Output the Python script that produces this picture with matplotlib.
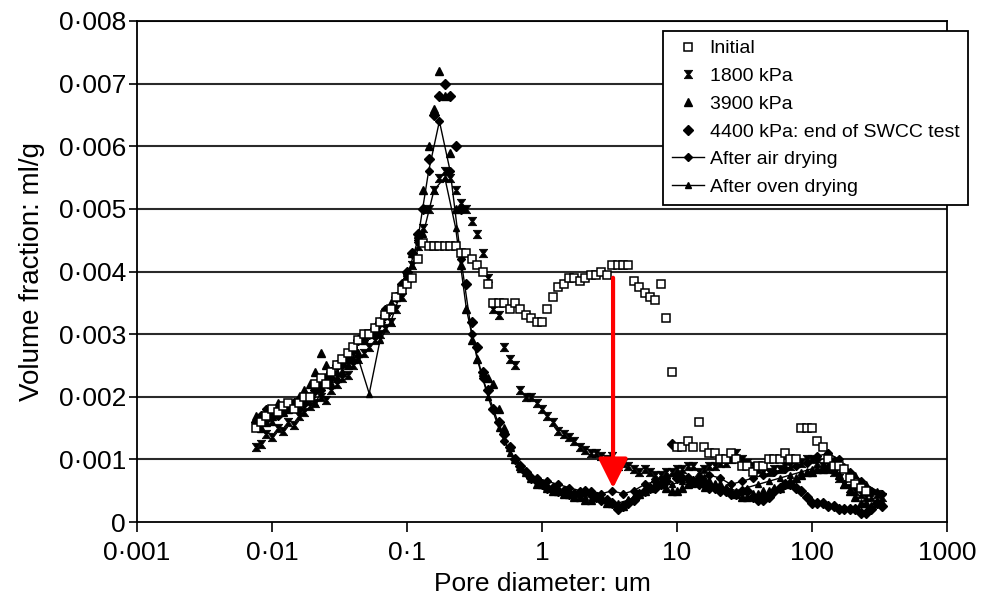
import numpy as np
import matplotlib
matplotlib.use('Agg')
import matplotlib.pyplot as plt
from matplotlib.path import Path
from matplotlib.ticker import FixedLocator, FixedFormatter, NullLocator

plt.rcParams['font.family'] = ['Liberation Sans', 'DejaVu Sans']

# ---------------- data (pore diameter in um, volume fraction in 1e-3 ml/g) ----------------
diam_a = [0.0076, 0.0091, 0.011, 0.0132, 0.0158, 0.0191, 0.0229, 0.0275, 0.0331, 0.0398,
          0.0479, 0.0575, 0.0692, 0.0832, 0.1, 0.120, 0.1445, 0.1738, 0.209, 0.251,
          0.302, 0.363, 0.437, 0.525, 0.631, 0.759, 0.912, 1.096, 1.318, 1.585,
          1.905, 2.291, 2.754, 3.311, 3.981, 4.786, 5.754, 6.918, 8.318, 10.0,
          12.02, 14.45, 17.38, 20.89, 25.12, 30.2, 36.31, 43.65, 52.48, 63.1,
          75.86, 91.2, 109.6, 131.8, 158.5, 190.5, 229.1, 275.4, 331.1]
diam_b = [0.0083, 0.01, 0.012, 0.01445, 0.0174, 0.0209, 0.0251, 0.0302, 0.0363, 0.0437,
          0.0525, 0.0631, 0.0759, 0.0912, 0.1096, 0.1318, 0.1585, 0.1905, 0.2291, 0.2754,
          0.3311, 0.3981, 0.4786, 0.5754, 0.6918, 0.8318, 1.0, 1.202, 1.445, 1.738,
          2.089, 2.512, 3.02, 3.631, 4.365, 5.248, 6.31, 7.586, 9.12, 10.96,
          13.18, 15.85, 19.05, 22.91, 27.54, 33.11, 39.81, 47.86, 57.54, 69.18,
          83.18, 100, 120.2, 144.5, 173.8, 208.9, 251.2, 302]
diam_fine = sorted(diam_a + diam_b)
diam_init = [d for d in diam_fine if d <= 252]

vol_initial = [1.5, 1.6, 1.7, 1.8, 1.75, 1.85, 1.9, 1.8, 1.9, 2.0,
               2.0, 2.2, 2.3, 2.2, 2.4, 2.5, 2.6, 2.7, 2.8, 2.9,
               3.0, 3.0, 3.1, 3.2, 3.3, 3.4, 3.6, 3.7, 3.8, 3.9,
               4.2, 4.45, 4.4, 4.4, 4.4, 4.4, 4.4, 4.4, 4.3, 4.3,
               4.2, 4.1, 4.0, 3.8, 3.5, 3.5, 3.5, 3.4, 3.5, 3.4,
               3.3, 3.25, 3.2, 3.2, 3.4, 3.6, 3.75, 3.8, 3.9, 3.9,
               3.85, 3.9, 3.95, 3.95, 4.0, 3.95, 4.1, 4.1, 4.1, 4.1,
               3.85, 3.75, 3.65, 3.6, 3.55, 3.8, 3.25, 2.4, 1.2, 1.2,
               1.3, 1.2, 1.6, 1.2, 1.1, 1.1, 1.0, 1.0, 1.1, 1.0,
               0.9, 0.9, 0.8, 0.9, 0.9, 1.0, 1.0, 1.0, 1.1, 1.0,
               1.0, 1.5, 1.5, 1.5, 1.3, 1.2, 1.0, 0.9, 0.9, 0.85,
               0.7, 0.6, 0.55, 0.5]
vol_1800 = [1.2, 1.25, 1.4, 1.35, 1.5, 1.45, 1.6, 1.55, 1.7, 1.75,
            1.85, 1.9, 2.0, 1.95, 2.1, 2.2, 2.3, 2.35, 2.5, 2.6,
            2.7, 2.8, 2.9, 3.0, 3.1, 3.2, 3.4, 3.6, 3.9, 4.1,
            4.4, 4.7, 5.0, 5.3, 5.5, 5.6, 5.5, 5.3, 5.1, 5.0,
            4.8, 4.6, 4.3, 3.9, 3.4, 3.3, 2.8, 2.6, 2.5, 2.1,
            2.0, 2.0, 1.9, 1.8, 1.7, 1.6, 1.45, 1.4, 1.35, 1.3,
            1.2, 1.15, 1.1, 1.1, 1.05, 1.0, 1.05, 0.9, 0.95, 0.9,
            0.85, 0.8, 0.85, 0.8, 0.75, 0.75, 0.8, 0.8, 0.85, 0.85,
            0.9, 0.9, 0.8, 0.85, 0.9, 0.9, 0.95, 0.95, 1.0, 1.1,
            1.0, 0.95, 0.9, 0.85, 0.8, 0.8, 0.85, 0.85, 0.9, 0.9,
            0.95, 0.95, 1.0, 1.0, 0.95, 0.9, 0.85, 0.8, 0.7, 0.6,
            0.55, 0.5, 0.45, 0.4, 0.4, 0.45, 0.4]
vol_3900 = [1.7, 1.5, 1.6, 1.7, 1.9, 1.75, 1.8, 1.9, 2.0, 2.1,
            2.2, 2.4, 2.7, 2.5, 2.2, 2.3, 2.4, 2.5, 2.6, 2.7,
            2.9, 3.0, 3.1, 3.2, 3.3, 3.5, 3.6, 3.8, 4.0, 4.3,
            4.6, 5.3, 6.0, 6.6, 7.2, 6.8, 5.9, 5.0, 4.1, 3.4,
            2.9, 2.6, 2.4, 2.3, 2.2, 1.8, 1.5, 1.2, 1.0, 0.9,
            0.8, 0.7, 0.6, 0.6, 0.55, 0.5, 0.5, 0.45, 0.45, 0.4,
            0.4, 0.35, 0.35, 0.4, 0.4, 0.3, 0.3, 0.25, 0.25, 0.35,
            0.4, 0.45, 0.5, 0.55, 0.6, 0.6, 0.55, 0.5, 0.5, 0.55,
            0.6, 0.65, 0.7, 0.7, 0.65, 0.6, 0.6, 0.55, 0.5, 0.45,
            0.4, 0.4, 0.45, 0.45, 0.5, 0.5, 0.55, 0.55, 0.6, 0.65,
            0.7, 0.75, 0.8, 0.8, 0.85, 0.85, 0.9, 0.85, 0.75, 0.6,
            0.5, 0.4, 0.3, 0.3, 0.25, 0.3, 0.3]
vol_4400 = [1.6, 1.7, 1.65, 1.7, 1.8, 1.8, 1.85, 1.9, 1.95, 1.9,
            2.0, 2.1, 2.2, 2.3, 2.4, 2.5, 2.55, 2.6, 2.75, 2.9,
            2.95, 3.0, 3.1, 3.2, 3.3, 3.4, 3.6, 3.8, 4.0, 4.3,
            4.6, 5.0, 5.8, 6.5, 6.8, 7.0, 6.8, 6.0, 5.0, 3.8,
            3.2, 2.8, 2.4, 2.1, 1.8, 1.6, 1.4, 1.2, 1.0, 0.9,
            0.8, 0.7, 0.65, 0.6, 0.55, 0.55, 0.5, 0.5, 0.45, 0.45,
            0.45, 0.5, 0.45, 0.4, 0.35, 0.35, 0.3, 0.2, 0.25, 0.3,
            0.35, 0.45, 0.5, 0.55, 0.55, 0.6, 0.65, 1.25, 0.7, 0.7,
            0.7, 0.65, 0.6, 0.6, 0.55, 0.55, 0.5, 0.5, 0.45, 0.45,
            0.5, 0.5, 0.4, 0.35, 0.35, 0.4, 0.5, 0.55, 0.6, 0.6,
            0.55, 0.5, 0.4, 0.3, 0.3, 0.3, 0.25, 0.25, 0.2, 0.2,
            0.2, 0.2, 0.15, 0.15, 0.2, 0.3, 0.25]
vol_air = [1.6, 1.8, 1.7, 1.9, 1.8, 2.0, 2.1, 2.3, 2.5, 2.8,
           2.9, 3.0, 3.4, 3.6, 3.9, 4.5, 5.6, 6.4, 5.6, 4.2,
           3.0, 2.3, 1.8, 1.3, 1.0, 0.8, 0.7, 0.65, 0.6, 0.55,
           0.5, 0.5, 0.45, 0.5, 0.45, 0.5, 0.6, 0.65, 0.7, 0.75,
           0.7, 0.7, 0.75, 0.7, 0.6, 0.65, 0.7, 0.75, 0.8, 0.85,
           0.9, 0.95, 1.05, 1.1, 1.0, 0.8, 0.65, 0.5, 0.45]
vol_oven = [1.7, 1.6, 1.8, 1.85, 2.0, 1.9, 2.2, 2.4, 2.6, 2.6,
            2.05, 2.9, 3.2, 3.7, 4.1, 4.6, 5.3, 5.5, 4.7, 3.4,
            2.6, 2.0, 1.5, 1.1, 0.85, 0.7, 0.6, 0.55, 0.5, 0.45,
            0.4, 0.4, 0.35, 0.3, 0.35, 0.45, 0.55, 0.6, 0.6, 0.65,
            0.6, 0.55, 0.6, 0.55, 0.5, 0.55, 0.6, 0.65, 0.7, 0.75,
            0.8, 0.85, 0.9, 1.0, 0.9, 0.75, 0.6, 0.5]

labels = ['Initial', '1800 kPa', '3900 kPa', '4400 kPa: end of SWCC test',
          'After air drying', 'After oven drying']

x_ticks = [0.001, 0.01, 0.1, 1, 10, 100, 1000]
x_tick_labels = ['0·001', '0·01', '0·1', '1', '10', '100', '1000']
y_ticks = [0, 0.001, 0.002, 0.003, 0.004, 0.005, 0.006, 0.007, 0.008]
y_tick_labels = ['0', '0·001', '0·002', '0·003', '0·004', '0·005', '0·006', '0·007', '0·008']

arrow_x = 3.36
arrow_from = 0.0039
arrow_to = 0.00054

scale = 1e-3
# ------------------------------------------------------------------------------------------

fig = plt.figure(figsize=(9.85, 5.99), dpi=100)
ax = fig.add_axes([137/985, 1-522/599, (947-137)/985, (522-21)/599])
ax.set_xscale('log')
ax.set_xlim(0.001, 1000)
ax.set_ylim(0, 0.008)

hourglass = Path([(-1, 1), (1, 1), (0.25, 0), (1, -1), (-1, -1), (-0.25, 0), (-1, 1)],
                 [Path.MOVETO, Path.LINETO, Path.LINETO, Path.LINETO, Path.LINETO,
                  Path.LINETO, Path.CLOSEPOLY])

k = 'black'
h_air, = ax.plot(diam_a, np.array(vol_air) * scale, '-', color=k, lw=1.0,
                 marker='D', ms=4.2, mfc=k, mec=k, zorder=3)
h_oven, = ax.plot(diam_b, np.array(vol_oven) * scale, '-', color=k, lw=1.0,
                  marker='^', ms=5.0, mfc=k, mec=k, zorder=3)
h_1800, = ax.plot(diam_fine, np.array(vol_1800) * scale, ls='none', marker=hourglass,
                  ms=6.0, mfc=k, mec=k, mew=0.6, zorder=4)
h_3900, = ax.plot(diam_fine, np.array(vol_3900) * scale, ls='none', marker='^',
                  ms=5.8, mfc=k, mec=k, zorder=4)
h_4400, = ax.plot(diam_fine, np.array(vol_4400) * scale, ls='none', marker='D',
                  ms=4.8, mfc=k, mec=k, zorder=4)
h_init, = ax.plot(diam_init, np.array(vol_initial) * scale, ls='none', marker='s',
                  ms=6.0, mfc='white', mec=k, mew=1.1, zorder=5)

# grid and frame
for yv in y_ticks[1:]:
    ax.axhline(yv, color='#2a2a2a', lw=1.5, zorder=1)
for s in ax.spines.values():
    s.set_color('black')
    s.set_linewidth(1.3)

ax.xaxis.set_major_locator(FixedLocator(x_ticks))
ax.xaxis.set_major_formatter(FixedFormatter(x_tick_labels))
ax.xaxis.set_minor_locator(NullLocator())
ax.yaxis.set_major_locator(FixedLocator(y_ticks))
ax.yaxis.set_major_formatter(FixedFormatter(y_tick_labels))
ax.tick_params(axis='both', direction='out', length=6, width=1.2, color='black',
               labelsize=19, pad=2)
ax.tick_params(axis='x', length=7, pad=7)

ax.set_xlabel('Pore diameter: um', fontsize=19, labelpad=5)
ax.set_ylabel('Volume fraction: ml/g', fontsize=20, labelpad=10)

# red arrow
ax.annotate('', xy=(arrow_x, arrow_to), xytext=(arrow_x, arrow_from),
            arrowprops=dict(arrowstyle='-|>,head_length=1.0,head_width=0.5',
                            mutation_scale=18, color='#ff0000', lw=3,
                            shrinkA=0, shrinkB=0), zorder=10)

leg = fig.legend([h_init, h_1800, h_3900, h_4400, h_air, h_oven], labels,
                 loc='upper left', bbox_to_anchor=(663/985, 1-31/599),
                 borderaxespad=0, fontsize=14, frameon=True, fancybox=False,
                 framealpha=1, edgecolor='black', numpoints=1,
                 handlelength=1.65, handletextpad=0.3, labelspacing=0.52,
                 borderpad=0.45)
leg.get_frame().set_linewidth(1.3)

fig.savefig('out.png', dpi=100)
